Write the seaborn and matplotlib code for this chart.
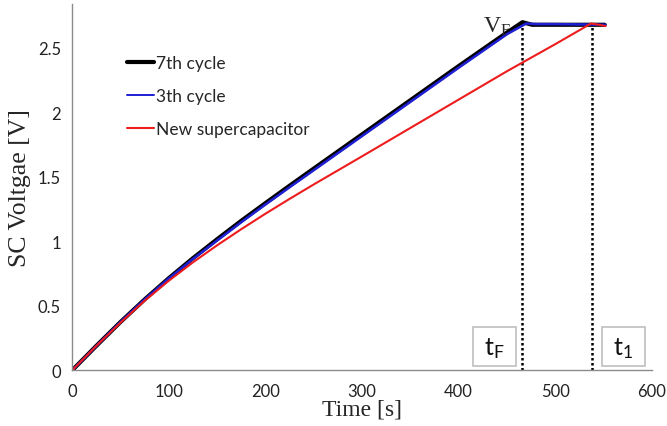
import numpy as np
import pandas as pd
import matplotlib
matplotlib.use("Agg")
import matplotlib.pyplot as plt
import seaborn as sns
from matplotlib.patches import Rectangle

# ---- data ----
t_black = [0, 25, 50, 75, 100, 125, 150, 175, 200, 225, 250, 300, 350, 400, 450, 466, 476, 500, 551]
v_black = [0, 0.19, 0.375, 0.55, 0.715, 0.87, 1.017, 1.16, 1.297, 1.432, 1.565, 1.83, 2.095, 2.36, 2.62, 2.70, 2.68, 2.68, 2.68]

t_blue = [0, 25, 50, 75, 100, 125, 150, 175, 200, 225, 250, 300, 350, 400, 450, 470, 480, 500, 552]
v_blue = [0, 0.19, 0.375, 0.55, 0.713, 0.864, 1.007, 1.149, 1.286, 1.42, 1.552, 1.817, 2.082, 2.347, 2.607, 2.69, 2.685, 2.685, 2.68]

t_red = [0, 25, 50, 75, 100, 125, 150, 175, 200, 225, 250, 300, 350, 400, 450, 500, 537, 545, 552]
v_red = [0, 0.19, 0.37, 0.54, 0.695, 0.838, 0.97, 1.095, 1.215, 1.33, 1.442, 1.66, 1.88, 2.10, 2.32, 2.53, 2.69, 2.68, 2.67]

series_labels = ["7th cycle", "3th cycle", "New supercapacitor"]
series_colors = ["#000000", "#1f1fd6", "#ee1c1c"]
series_widths = [3.0, 1.8, 1.5]

t_F, v_F = 466, 2.70
t_1, v_1 = 538, 2.69

x_ticks = [0, 100, 200, 300, 400, 500, 600]
y_ticks = [0, 0.5, 1, 1.5, 2, 2.5]
y_tick_labels = ["0", "0.5", "1", "1.5", "2", "2.5"]

# ---- figure ----
sns.set_style("white")
plt.rcParams["font.family"] = ["Lato", "DejaVu Sans"]
plt.rcParams["mathtext.default"] = "regular"

fig = plt.figure(figsize=(6.67, 4.27), dpi=100)
ax = fig.add_axes([0.108, 0.130, 0.8695, 0.858])

for t, v, lab, col, lw in zip([t_black, t_blue, t_red], [v_black, v_blue, v_red],
                              series_labels, series_colors, series_widths):
    df = pd.DataFrame({"t": t, "v": v})
    sns.lineplot(data=df, x="t", y="v", ax=ax, color=col, lw=lw, label=lab,
                 estimator=None, sort=False)

# dotted markers of t_F and t_1
ax.vlines([t_F, t_1], 0, [v_F, v_1], colors="black", linestyles=(0, (1, 1)), lw=1.8, zorder=1)

ax.set_xlim(0, 600)
ax.set_ylim(0, 2.84)
ax.set_xticks(x_ticks)
ax.set_xticklabels([str(x) for x in x_ticks])
ax.set_yticks(y_ticks)
ax.set_yticklabels(y_tick_labels)

for s in ["top", "right"]:
    ax.spines[s].set_visible(False)
for s in ["left", "bottom"]:
    ax.spines[s].set_color("#8c8c8c")
    ax.spines[s].set_linewidth(1.0)
ax.tick_params(axis="both", which="major", direction="out", length=5, width=1,
               color="#8c8c8c", labelsize=12, labelcolor="#222222", pad=3)
ax.tick_params(axis="x", pad=4)

ax.set_xlabel("Time [s]", fontsize=17, family=["Liberation Serif", "DejaVu Serif"], labelpad=0)
ax.set_ylabel("SC Voltgae [V]", fontsize=18.5, family=["Liberation Serif", "DejaVu Serif"], labelpad=5)

leg = ax.legend(loc="upper left", bbox_to_anchor=(0.082, 0.881), frameon=False,
                fontsize=12.5, handlelength=1.6, handletextpad=0.1, labelspacing=0.98,
                borderaxespad=0)
leg.get_lines()[1].set_linewidth(1.4)

# V_F label
ax.text(425, 2.63, "V$_F$", fontsize=17, family=["Liberation Serif", "DejaVu Serif"],
        ha="left", va="baseline")

# boxed labels
for (x0, x1), txt in [((415, 459), "t$_F$"), ((548.5, 592.5), "t$_1$")]:
    ax.add_patch(Rectangle((x0, 0.033), x1 - x0, 0.307, fill=True, facecolor="white",
                           edgecolor="#bfbfbf", lw=1.2, zorder=3))
    ax.text((x0 + x1) / 2, 0.18, txt, fontsize=18, ha="center", va="center",
            color="#111111", zorder=4)

fig.savefig("out.png", dpi=100)
